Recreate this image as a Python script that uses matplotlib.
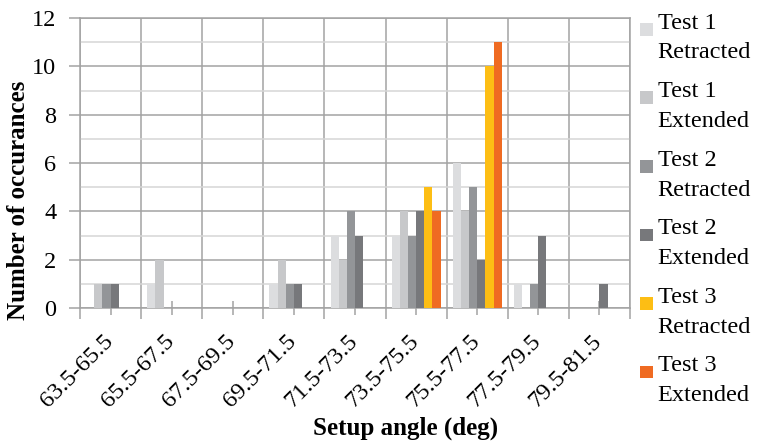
import matplotlib
matplotlib.use('Agg')
import matplotlib.pyplot as plt
import matplotlib.patches as mpatches
import matplotlib.transforms as mtransforms
from matplotlib.container import BarContainer
from matplotlib.legend_handler import HandlerPatch
import numpy as np

categories = ['63.5-65.5', '65.5-67.5', '67.5-69.5', '69.5-71.5', '71.5-73.5',
              '73.5-75.5', '75.5-77.5', '77.5-79.5', '79.5-81.5']
series = ['Test 1\nRetracted', 'Test 1\nExtended', 'Test 2\nRetracted',
          'Test 2\nExtended', 'Test 3\nRetracted', 'Test 3\nExtended']
t1_retracted = [0, 1, 0, 1, 3, 3, 6, 1, 0]
t1_extended = [1, 2, 0, 2, 2, 4, 4, 0, 0]
t2_retracted = [1, 0, 0, 1, 4, 3, 5, 1, 0]
t2_extended = [1, 0, 0, 1, 3, 4, 2, 3, 1]
t3_retracted = [0, 0, 0, 0, 0, 5, 10, 0, 0]
t3_extended = [0, 0, 0, 0, 0, 4, 11, 0, 0]
values = [t1_retracted, t1_extended, t2_retracted, t2_extended, t3_retracted, t3_extended]
colors = ['#dcdddf', '#c7c8ca', '#939598', '#77787b', '#fdbe14', '#ef6b22']

plt.rcParams['font.family'] = 'Liberation Serif'
plt.rcParams['font.size'] = 17.5

fig = plt.figure(figsize=(7.57, 4.45), dpi=100)
ax = fig.add_axes([80/757, 1-308/445, 550/757, 290/445])

x = np.arange(len(categories))
w = 0.8 / len(series)
for j, (vals, lab, c) in enumerate(zip(values, series, colors)):
    ax.bar(x + (j - 2.5) * w, vals, width=w, color=c, label=lab, zorder=3)

ax.set_xlim(-0.5, len(categories) - 0.5)
ax.set_ylim(0, 12)
ax.set_xticks(np.arange(len(categories) + 1) - 0.5)
ax.set_xticklabels([])
ax.set_xticks(x, categories, minor=True)
ax.set_yticks(np.arange(0, 13, 2))
ax.set_yticks(np.arange(1, 12, 2), minor=True)

grid_c = '#a3a3a3'
ax.grid(axis='x', which='major', color=grid_c, lw=1.1, zorder=0)
ax.grid(axis='y', which='major', color=grid_c, lw=1.1, zorder=0)
ax.grid(axis='y', which='minor', color='#d6d6d6', lw=1.1, zorder=0)
ax.set_axisbelow(True)
for s in ax.spines.values():
    s.set_color(grid_c)
    s.set_linewidth(1.1)

ax.tick_params(axis='x', which='major', direction='out', length=8, color=grid_c, width=1.1)
ax.tick_params(axis='x', which='minor', direction='inout', length=10, color=grid_c, width=1.1,
               pad=19.4)
ax.tick_params(axis='y', which='major', direction='out', length=8, color=grid_c, width=1.1, pad=9)
ax.tick_params(axis='y', which='minor', length=0)
shift = mtransforms.ScaledTranslation(3/100, 0, fig.dpi_scale_trans)
for t in ax.get_xticklabels(minor=True):
    t.set_rotation(45)
    t.set_ha('right')
    t.set_va('baseline')
    t.set_rotation_mode('anchor')
    t.set_transform(t.get_transform() + shift)

fig.text(19/757, 1-200/445, 'Number of occurances', rotation=90, ha='center', va='center',
         fontweight='bold', fontsize=18)
fig.text(406/757, 1-428/445, 'Setup angle (deg)', ha='center', va='center',
         fontweight='bold', fontsize=18)

square_y = 7.6  # points: lifts the square next to the first label line


def top_square(legend, orig_handle, xdescent, ydescent, width, height, fontsize):
    return mpatches.Rectangle((-xdescent, square_y), width, width)


def copy_bar_style(handle, orig):
    handle.update_from(orig.patches[0])


leg = ax.legend(loc='upper left', bbox_to_anchor=(1.018, 1.0183), frameon=False,
                handlelength=0.52, handleheight=0.52, handletextpad=0.21, labelspacing=0.73,
                borderaxespad=0.0, borderpad=0.0,
                handler_map={BarContainer: HandlerPatch(patch_func=top_square,
                                                        update_func=copy_bar_style)})
for t in leg.get_texts():
    t.set_linespacing(1.55)

fig.savefig('out.png', dpi=100)
